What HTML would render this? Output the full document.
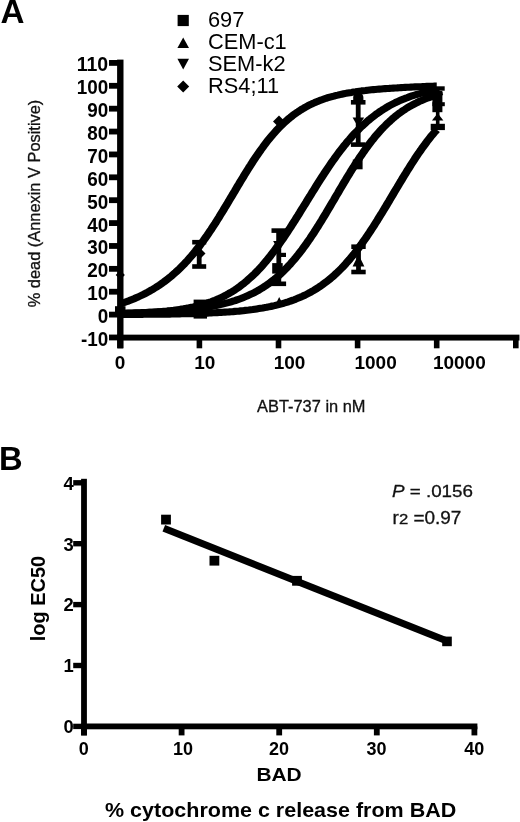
<!DOCTYPE html>
<html lang="en"><head><meta charset="utf-8"><title>Figure</title>
<style>
html,body{margin:0;padding:0;background:#fff}
body{width:520px;height:822px;overflow:hidden}
text{font-family:"Liberation Sans",sans-serif;fill:#000}
text.g{fill:#111;stroke:#111;stroke-width:0.3px}
</style></head><body>
<svg width="520" height="822" viewBox="0 0 520 822" style="display:block">
<rect width="520" height="822" fill="#fff"/>
<text x="0.5" y="23.1" font-size="33.2" font-weight="700" class="b">A</text>
<text x="-1.1" y="470.3" font-size="32.7" font-weight="700" class="b">B</text>
<rect x="177.6" y="14.9" width="11.2" height="11.2"/>
<polygon points="177.4,48 189.0,48 183.2,37.4"/>
<polygon points="177.4,58.8 189.0,58.8 183.2,69.5"/>
<polygon points="177.2,86.5 183.2,80.5 189.2,86.5 183.2,92.5"/>
<text x="208" y="27.2" font-size="21.8" class="r">697</text>
<text x="208" y="49.2" font-size="21.8" class="r">CEM-c1</text>
<text x="208" y="71.2" font-size="21.8" class="r">SEM-k2</text>
<text x="208" y="93.2" font-size="21.8" class="r">RS4;11</text>
<rect x="117.10" y="59.6" width="6.4" height="288.7"/>
<rect x="117.35" y="334.65" width="402.1" height="5.9"/>
<rect x="109" y="334.58" width="10" height="5.8"/>
<text x="108.2" y="345.9" font-size="20.4" font-weight="700" text-anchor="end" textLength="27.3" lengthAdjust="spacingAndGlyphs" class="b">-10</text>
<rect x="109" y="311.70" width="10" height="5.8"/>
<text x="108.2" y="323.0" font-size="20.4" font-weight="700" text-anchor="end" textLength="10.5" lengthAdjust="spacingAndGlyphs" class="b">0</text>
<rect x="109" y="288.82" width="10" height="5.8"/>
<text x="108.2" y="300.1" font-size="20.4" font-weight="700" text-anchor="end" textLength="21.0" lengthAdjust="spacingAndGlyphs" class="b">10</text>
<rect x="109" y="265.94" width="10" height="5.8"/>
<text x="108.2" y="277.2" font-size="20.4" font-weight="700" text-anchor="end" textLength="21.0" lengthAdjust="spacingAndGlyphs" class="b">20</text>
<rect x="109" y="243.06" width="10" height="5.8"/>
<text x="108.2" y="254.4" font-size="20.4" font-weight="700" text-anchor="end" textLength="21.0" lengthAdjust="spacingAndGlyphs" class="b">30</text>
<rect x="109" y="220.18" width="10" height="5.8"/>
<text x="108.2" y="231.5" font-size="20.4" font-weight="700" text-anchor="end" textLength="21.0" lengthAdjust="spacingAndGlyphs" class="b">40</text>
<rect x="109" y="197.30" width="10" height="5.8"/>
<text x="108.2" y="208.6" font-size="20.4" font-weight="700" text-anchor="end" textLength="21.0" lengthAdjust="spacingAndGlyphs" class="b">50</text>
<rect x="109" y="174.42" width="10" height="5.8"/>
<text x="108.2" y="185.7" font-size="20.4" font-weight="700" text-anchor="end" textLength="21.0" lengthAdjust="spacingAndGlyphs" class="b">60</text>
<rect x="109" y="151.54" width="10" height="5.8"/>
<text x="108.2" y="162.8" font-size="20.4" font-weight="700" text-anchor="end" textLength="21.0" lengthAdjust="spacingAndGlyphs" class="b">70</text>
<rect x="109" y="128.66" width="10" height="5.8"/>
<text x="108.2" y="140.0" font-size="20.4" font-weight="700" text-anchor="end" textLength="21.0" lengthAdjust="spacingAndGlyphs" class="b">80</text>
<rect x="109" y="105.78" width="10" height="5.8"/>
<text x="108.2" y="117.1" font-size="20.4" font-weight="700" text-anchor="end" textLength="21.0" lengthAdjust="spacingAndGlyphs" class="b">90</text>
<rect x="109" y="82.90" width="10" height="5.8"/>
<text x="108.2" y="94.2" font-size="20.4" font-weight="700" text-anchor="end" textLength="31.5" lengthAdjust="spacingAndGlyphs" class="b">100</text>
<rect x="109" y="60.02" width="10" height="5.8"/>
<text x="108.2" y="71.3" font-size="20.4" font-weight="700" text-anchor="end" textLength="31.5" lengthAdjust="spacingAndGlyphs" class="b">110</text>
<rect x="117.50" y="337.6" width="5.6" height="10.7"/>
<rect x="196.60" y="337.6" width="5.6" height="10.7"/>
<rect x="275.70" y="337.6" width="5.6" height="10.7"/>
<rect x="354.80" y="337.6" width="5.6" height="10.7"/>
<rect x="433.90" y="337.6" width="5.6" height="10.7"/>
<rect x="513.00" y="337.6" width="5.6" height="10.7"/>
<text x="120.1" y="368.7" font-size="19" font-weight="700" text-anchor="middle" class="b">0</text>
<text x="204.7" y="368.7" font-size="19" font-weight="700" text-anchor="middle" class="b">10</text>
<text x="289.6" y="368.7" font-size="19" font-weight="700" text-anchor="middle" class="b">100</text>
<text x="375.6" y="368.7" font-size="19" font-weight="700" text-anchor="middle" class="b">1000</text>
<text x="459.3" y="368.7" font-size="19" font-weight="700" text-anchor="middle" class="b">10000</text>
<text transform="translate(40.1,307.3) rotate(-90)" font-size="16.2" textLength="207.6" lengthAdjust="spacingAndGlyphs" class="r g">% dead (Annexin V Positive)</text>
<text x="257" y="412" font-size="16.2" textLength="108.5" lengthAdjust="spacingAndGlyphs" class="r g">ABT-737 in nM</text>
<g transform="scale(1.13,1)">
<path d="M106.5,314.5 L108.2,314.5 L110.0,314.5 L111.7,314.4 L113.5,314.4 L115.2,314.4 L117.0,314.4 L118.7,314.4 L120.5,314.4 L122.2,314.4 L124.0,314.4 L125.7,314.4 L127.5,314.3 L129.2,314.3 L131.0,314.3 L132.7,314.3 L134.5,314.3 L136.2,314.3 L138.0,314.2 L139.7,314.2 L141.5,314.2 L143.2,314.2 L145.0,314.1 L146.7,314.1 L148.5,314.1 L150.2,314.1 L152.0,314.0 L153.7,314.0 L155.5,314.0 L157.2,313.9 L159.0,313.9 L160.7,313.8 L162.5,313.8 L164.2,313.8 L166.0,313.7 L167.7,313.7 L169.5,313.6 L171.2,313.6 L173.0,313.5 L174.7,313.4 L176.5,313.4 L178.2,313.3 L180.0,313.2 L181.7,313.2 L183.5,313.1 L185.2,313.0 L187.0,312.9 L188.7,312.8 L190.5,312.7 L192.2,312.6 L194.0,312.5 L195.7,312.4 L197.5,312.3 L199.2,312.1 L201.0,312.0 L202.7,311.9 L204.5,311.7 L206.2,311.6 L208.0,311.4 L209.7,311.2 L211.5,311.1 L213.2,310.9 L215.0,310.7 L216.7,310.4 L218.5,310.2 L220.2,310.0 L222.0,309.7 L223.7,309.5 L225.5,309.2 L227.2,308.9 L229.0,308.6 L230.7,308.3 L232.5,308.0 L234.2,307.6 L236.0,307.3 L237.7,306.9 L239.5,306.5 L241.2,306.0 L243.0,305.6 L244.7,305.1 L246.5,304.6 L248.2,304.1 L250.0,303.6 L251.7,303.0 L253.5,302.4 L255.2,301.8 L257.0,301.1 L258.7,300.4 L260.5,299.7 L262.2,298.9 L264.0,298.1 L265.7,297.3 L267.5,296.4 L269.2,295.5 L271.0,294.5 L272.7,293.5 L274.5,292.4 L276.2,291.3 L278.0,290.2 L279.7,289.0 L281.5,287.7 L283.2,286.4 L285.0,285.0 L286.7,283.6 L288.5,282.1 L290.2,280.6 L292.0,279.0 L293.7,277.3 L295.5,275.6 L297.2,273.8 L299.0,271.9 L300.7,270.0 L302.5,268.0 L304.2,265.9 L306.0,263.7 L307.7,261.5 L309.5,259.2 L311.2,256.8 L313.0,254.4 L314.7,251.9 L316.5,249.3 L318.2,246.7 L320.0,244.0 L321.7,241.2 L323.5,238.4 L325.2,235.5 L327.0,232.5 L328.7,229.5 L330.5,226.5 L332.2,223.4 L334.0,220.2 L335.7,217.0 L337.5,213.8 L339.2,210.6 L341.0,207.3 L342.7,204.0 L344.5,200.7 L346.2,197.4 L348.0,194.0 L349.7,190.7 L351.5,187.4 L353.2,184.1 L355.0,180.8 L356.7,177.5 L358.5,174.3 L360.2,171.1 L362.0,167.9 L363.7,164.8 L365.5,161.7 L367.2,158.7 L369.0,155.7 L370.7,152.8 L372.5,150.0 L374.2,147.2 L376.0,144.5 L377.7,141.8 L379.5,139.2 L381.2,136.7 L383.0,134.3 L384.7,132.0 L386.5,129.7" fill="none" stroke="#000" stroke-width="7.1" stroke-linejoin="round"/>
<path d="M106.5,313.3 L108.2,313.2 L110.0,313.2 L111.7,313.1 L113.5,313.1 L115.2,313.0 L117.0,313.0 L118.7,312.9 L120.5,312.8 L122.2,312.8 L124.0,312.7 L125.7,312.6 L127.5,312.6 L129.2,312.5 L131.0,312.4 L132.7,312.3 L134.5,312.2 L136.2,312.1 L138.0,312.0 L139.7,311.9 L141.5,311.8 L143.2,311.7 L145.0,311.6 L146.7,311.5 L148.5,311.4 L150.2,311.2 L152.0,311.1 L153.7,310.9 L155.5,310.8 L157.2,310.6 L159.0,310.5 L160.7,310.3 L162.5,310.1 L164.2,309.9 L166.0,309.7 L167.7,309.5 L169.5,309.3 L171.2,309.1 L173.0,308.8 L174.7,308.6 L176.5,308.3 L178.2,308.0 L180.0,307.7 L181.7,307.4 L183.5,307.1 L185.2,306.8 L187.0,306.4 L188.7,306.1 L190.5,305.7 L192.2,305.3 L194.0,304.8 L195.7,304.4 L197.5,303.9 L199.2,303.4 L201.0,302.9 L202.7,302.4 L204.5,301.8 L206.2,301.2 L208.0,300.6 L209.7,299.9 L211.5,299.2 L213.2,298.5 L215.0,297.7 L216.7,296.9 L218.5,296.1 L220.2,295.2 L222.0,294.2 L223.7,293.3 L225.5,292.3 L227.2,291.2 L229.0,290.1 L230.7,288.9 L232.5,287.7 L234.2,286.4 L236.0,285.1 L237.7,283.7 L239.5,282.2 L241.2,280.7 L243.0,279.1 L244.7,277.5 L246.5,275.8 L248.2,274.0 L250.0,272.1 L251.7,270.2 L253.5,268.2 L255.2,266.1 L257.0,263.9 L258.7,261.7 L260.5,259.4 L262.2,257.0 L264.0,254.5 L265.7,252.0 L267.5,249.4 L269.2,246.7 L271.0,244.0 L272.7,241.1 L274.5,238.3 L276.2,235.3 L278.0,232.3 L279.7,229.2 L281.5,226.1 L283.2,222.9 L285.0,219.7 L286.7,216.5 L288.5,213.2 L290.2,209.9 L292.0,206.5 L293.7,203.2 L295.5,199.8 L297.2,196.4 L299.0,193.1 L300.7,189.7 L302.5,186.3 L304.2,183.0 L306.0,179.7 L307.7,176.4 L309.5,173.2 L311.2,170.0 L313.0,166.9 L314.7,163.8 L316.5,160.7 L318.2,157.7 L320.0,154.8 L321.7,152.0 L323.5,149.2 L325.2,146.5 L327.0,143.8 L328.7,141.2 L330.5,138.8 L332.2,136.3 L334.0,134.0 L335.7,131.8 L337.5,129.6 L339.2,127.5 L341.0,125.5 L342.7,123.5 L344.5,121.7 L346.2,119.9 L348.0,118.1 L349.7,116.5 L351.5,114.9 L353.2,113.4 L355.0,112.0 L356.7,110.6 L358.5,109.3 L360.2,108.0 L362.0,106.8 L363.7,105.7 L365.5,104.6 L367.2,103.6 L369.0,102.6 L370.7,101.6 L372.5,100.8 L374.2,99.9 L376.0,99.1 L377.7,98.3 L379.5,97.6 L381.2,96.9 L383.0,96.3 L384.7,95.7 L386.5,95.1" fill="none" stroke="#000" stroke-width="7.1" stroke-linejoin="round"/>
<path d="M106.5,313.7 L108.2,313.6 L110.0,313.6 L111.7,313.5 L113.5,313.4 L115.2,313.4 L117.0,313.3 L118.7,313.2 L120.5,313.1 L122.2,313.1 L124.0,313.0 L125.7,312.9 L127.5,312.8 L129.2,312.7 L131.0,312.6 L132.7,312.4 L134.5,312.3 L136.2,312.2 L138.0,312.0 L139.7,311.9 L141.5,311.7 L143.2,311.5 L145.0,311.3 L146.7,311.2 L148.5,310.9 L150.2,310.7 L152.0,310.5 L153.7,310.3 L155.5,310.0 L157.2,309.7 L159.0,309.4 L160.7,309.1 L162.5,308.8 L164.2,308.4 L166.0,308.1 L167.7,307.7 L169.5,307.3 L171.2,306.9 L173.0,306.4 L174.7,305.9 L176.5,305.4 L178.2,304.9 L180.0,304.3 L181.7,303.7 L183.5,303.1 L185.2,302.4 L187.0,301.7 L188.7,300.9 L190.5,300.2 L192.2,299.3 L194.0,298.5 L195.7,297.6 L197.5,296.6 L199.2,295.6 L201.0,294.5 L202.7,293.4 L204.5,292.3 L206.2,291.1 L208.0,289.8 L209.7,288.5 L211.5,287.1 L213.2,285.6 L215.0,284.1 L216.7,282.5 L218.5,280.8 L220.2,279.1 L222.0,277.3 L223.7,275.5 L225.5,273.6 L227.2,271.6 L229.0,269.5 L230.7,267.4 L232.5,265.2 L234.2,262.9 L236.0,260.5 L237.7,258.1 L239.5,255.6 L241.2,253.1 L243.0,250.4 L244.7,247.8 L246.5,245.0 L248.2,242.2 L250.0,239.4 L251.7,236.5 L253.5,233.5 L255.2,230.5 L257.0,227.5 L258.7,224.4 L260.5,221.3 L262.2,218.1 L264.0,215.0 L265.7,211.8 L267.5,208.6 L269.2,205.4 L271.0,202.2 L272.7,199.0 L274.5,195.8 L276.2,192.6 L278.0,189.4 L279.7,186.3 L281.5,183.1 L283.2,180.0 L285.0,176.9 L286.7,173.9 L288.5,170.9 L290.2,168.0 L292.0,165.0 L293.7,162.2 L295.5,159.4 L297.2,156.6 L299.0,153.9 L300.7,151.3 L302.5,148.7 L304.2,146.2 L306.0,143.8 L307.7,141.4 L309.5,139.1 L311.2,136.8 L313.0,134.6 L314.7,132.5 L316.5,130.5 L318.2,128.5 L320.0,126.5 L321.7,124.7 L323.5,122.9 L325.2,121.1 L327.0,119.5 L328.7,117.9 L330.5,116.3 L332.2,114.8 L334.0,113.4 L335.7,112.0 L337.5,110.7 L339.2,109.4 L341.0,108.2 L342.7,107.0 L344.5,105.8 L346.2,104.8 L348.0,103.7 L349.7,102.7 L351.5,101.8 L353.2,100.9 L355.0,100.0 L356.7,99.2 L358.5,98.4 L360.2,97.7 L362.0,96.9 L363.7,96.2 L365.5,95.6 L367.2,95.0 L369.0,94.4 L370.7,93.8 L372.5,93.3 L374.2,92.8 L376.0,92.3 L377.7,91.8 L379.5,91.4 L381.2,91.0 L383.0,90.6 L384.7,90.2 L386.5,89.8" fill="none" stroke="#000" stroke-width="7.1" stroke-linejoin="round"/>
<path d="M106.5,303.9 L108.2,303.2 L110.0,302.5 L111.7,301.8 L113.5,301.1 L115.2,300.3 L117.0,299.5 L118.7,298.7 L120.5,297.8 L122.2,297.0 L124.0,296.0 L125.7,295.1 L127.5,294.1 L129.2,293.1 L131.0,292.0 L132.7,290.9 L134.5,289.8 L136.2,288.6 L138.0,287.4 L139.7,286.1 L141.5,284.8 L143.2,283.4 L145.0,282.0 L146.7,280.5 L148.5,279.0 L150.2,277.4 L152.0,275.8 L153.7,274.1 L155.5,272.3 L157.2,270.5 L159.0,268.6 L160.7,266.7 L162.5,264.7 L164.2,262.6 L166.0,260.4 L167.7,258.2 L169.5,255.9 L171.2,253.6 L173.0,251.1 L174.7,248.6 L176.5,246.1 L178.2,243.4 L180.0,240.7 L181.7,238.0 L183.5,235.1 L185.2,232.2 L187.0,229.3 L188.7,226.3 L190.5,223.2 L192.2,220.1 L194.0,216.9 L195.7,213.7 L197.5,210.5 L199.2,207.2 L201.0,204.0 L202.7,200.6 L204.5,197.3 L206.2,194.0 L208.0,190.7 L209.7,187.3 L211.5,184.0 L213.2,180.7 L215.0,177.5 L216.7,174.2 L218.5,171.0 L220.2,167.9 L222.0,164.8 L223.7,161.7 L225.5,158.7 L227.2,155.8 L229.0,152.9 L230.7,150.1 L232.5,147.4 L234.2,144.7 L236.0,142.1 L237.7,139.6 L239.5,137.2 L241.2,134.9 L243.0,132.6 L244.7,130.4 L246.5,128.3 L248.2,126.3 L250.0,124.4 L251.7,122.5 L253.5,120.7 L255.2,119.0 L257.0,117.4 L258.7,115.8 L260.5,114.3 L262.2,112.9 L264.0,111.6 L265.7,110.3 L267.5,109.0 L269.2,107.9 L271.0,106.8 L272.7,105.7 L274.5,104.7 L276.2,103.8 L278.0,102.9 L279.7,102.0 L281.5,101.2 L283.2,100.4 L285.0,99.7 L286.7,99.0 L288.5,98.3 L290.2,97.7 L292.0,97.1 L293.7,96.6 L295.5,96.1 L297.2,95.5 L299.0,95.1 L300.7,94.6 L302.5,94.2 L304.2,93.8 L306.0,93.4 L307.7,93.0 L309.5,92.7 L311.2,92.4 L313.0,92.0 L314.7,91.8 L316.5,91.5 L318.2,91.2 L320.0,90.9 L321.7,90.7 L323.5,90.5 L325.2,90.2 L327.0,90.0 L328.7,89.8 L330.5,89.6 L332.2,89.5 L334.0,89.3 L335.7,89.1 L337.5,89.0 L339.2,88.8 L341.0,88.6 L342.7,88.5 L344.5,88.4 L346.2,88.2 L348.0,88.1 L349.7,88.0 L351.5,87.9 L353.2,87.7 L355.0,87.6 L356.7,87.5 L358.5,87.4 L360.2,87.3 L362.0,87.2 L363.7,87.1 L365.5,87.0 L367.2,86.9 L369.0,86.8 L370.7,86.8 L372.5,86.7 L374.2,86.6 L376.0,86.5 L377.7,86.4 L379.5,86.4 L381.2,86.3 L383.0,86.2 L384.7,86.1 L386.5,86.1" fill="none" stroke="#000" stroke-width="7.1" stroke-linejoin="round"/>
</g>
<polygon points="115.7,275.0 120.3,270.4 124.9,275.0 120.3,279.6"/>
<rect x="115.0" y="306.2" width="10.5" height="10.5"/>
<rect x="196.8" y="242.2" width="4.8" height="24.3"/>
<rect x="192.2" y="239.9" width="14" height="4.6"/>
<rect x="192.2" y="264.2" width="14" height="4.6"/>
<polygon points="194.5,253.5 200.0,248.0 205.5,253.5 200.0,259.0"/>
<rect x="193.6" y="299.6" width="13.4" height="19"/>
<rect x="276.4" y="230.6" width="4.8" height="53.2"/>
<rect x="271.5" y="228.3" width="14.6" height="4.6"/>
<rect x="271.5" y="281.5" width="14.6" height="4.6"/>
<rect x="278.8" y="252.8" width="7.2" height="4.2"/>
<rect x="272.2" y="263.1" width="10.5" height="10.5"/>
<polygon points="273.1,241.0 284.6,241.0 278.8,251.0"/>
<rect x="276.6" y="232" width="6.2" height="11"/>
<polygon points="274.2,307.0 284.2,307.0 279.2,297.0"/>
<polygon points="273.0,121.5 279.0,115.5 285.0,121.5 279.0,127.5"/>
<rect x="355.8" y="102.3" width="4.8" height="42.3"/>
<rect x="350.9" y="100.0" width="14.6" height="4.6"/>
<rect x="350.9" y="142.3" width="14.6" height="4.6"/>
<polygon points="352.6,117.5 364.1,117.5 358.3,127.5"/>
<path d="M353.2,100 L353.2,97.5 Q353.2,94 356.5,93 L360,93 Q363.4,94 363.4,97.5 L363.4,100 Z"/>
<rect x="352.8" y="159.5" width="9.8" height="9.8"/>
<rect x="356.1" y="246.7" width="4.8" height="25.3"/>
<rect x="351.3" y="244.4" width="14.4" height="4.6"/>
<rect x="351.3" y="269.7" width="14.4" height="4.6"/>
<polygon points="352.6,266.5 364.4,266.5 358.5,254.5"/>
<rect x="435.9" y="88" width="3.6" height="39"/>
<rect x="430.7" y="86.3" width="14" height="4.4"/>
<polygon points="432.2,94.5 437.7,89.0 443.2,94.5 437.7,100.0"/>
<polygon points="432.2,92.5 443.2,92.5 437.7,101.5"/>
<rect x="432.4" y="102.2" width="12.4" height="4"/>
<rect x="432.4" y="91" width="10" height="21.2"/>
<polygon points="431.9,120.5 443.4,120.5 437.7,113.3"/>
<rect x="430.7" y="123.8" width="14.2" height="6.3"/>
<rect x="81.10" y="478.8" width="5.8" height="256.6"/>
<rect x="81.10" y="723.50" width="396.3" height="5.8"/>
<rect x="73.2" y="723.70" width="10" height="5.4"/>
<text x="73.8" y="733.2" font-size="18.4" font-weight="700" text-anchor="end" class="b">0</text>
<rect x="73.2" y="662.80" width="10" height="5.4"/>
<text x="73.8" y="672.3" font-size="18.4" font-weight="700" text-anchor="end" class="b">1</text>
<rect x="73.2" y="601.90" width="10" height="5.4"/>
<text x="73.8" y="611.4" font-size="18.4" font-weight="700" text-anchor="end" class="b">2</text>
<rect x="73.2" y="541.00" width="10" height="5.4"/>
<text x="73.8" y="550.5" font-size="18.4" font-weight="700" text-anchor="end" class="b">3</text>
<rect x="73.2" y="480.10" width="10" height="5.4"/>
<text x="73.8" y="489.6" font-size="18.4" font-weight="700" text-anchor="end" class="b">4</text>
<rect x="81.10" y="726.4" width="5.8" height="9.0"/>
<text x="83.8" y="755.2" font-size="18" font-weight="700" text-anchor="middle" class="b">0</text>
<rect x="178.70" y="726.4" width="5.8" height="9.0"/>
<text x="183.0" y="755.2" font-size="18" font-weight="700" text-anchor="middle" class="b">10</text>
<rect x="276.30" y="726.4" width="5.8" height="9.0"/>
<text x="279.0" y="755.2" font-size="18" font-weight="700" text-anchor="middle" class="b">20</text>
<rect x="373.90" y="726.4" width="5.8" height="9.0"/>
<text x="376.6" y="755.2" font-size="18" font-weight="700" text-anchor="middle" class="b">30</text>
<rect x="471.50" y="726.4" width="5.8" height="9.0"/>
<text x="474.2" y="755.2" font-size="18" font-weight="700" text-anchor="middle" class="b">40</text>
<text transform="translate(44.5,641.3) rotate(-90)" font-size="20" font-weight="700" textLength="85.4" lengthAdjust="spacingAndGlyphs" class="b">log EC50</text>
<text x="256.4" y="780.6" font-size="18.7" font-weight="700" textLength="45.3" lengthAdjust="spacingAndGlyphs" class="b">BAD</text>
<text x="105" y="816.5" font-size="19.7" font-weight="700" textLength="351.3" lengthAdjust="spacingAndGlyphs" class="b">% cytochrome c release from BAD</text>
<rect x="161.1" y="514.7" width="9.8" height="9.8"/>
<rect x="209.5" y="555.8" width="9.8" height="9.8"/>
<rect x="292.1" y="575.9" width="9.8" height="9.8"/>
<rect x="442.2" y="636.6" width="9.6" height="9.6"/>
<line x1="163.8" y1="528.3" x2="449.5" y2="642" stroke="#000" stroke-width="7"/>
<text x="392" y="497.1" font-size="17.4" textLength="81" lengthAdjust="spacingAndGlyphs" class="r g"><tspan font-style="italic">P</tspan> = .0156</text>
<text x="392.6" y="523.5" font-size="17.6" textLength="68.8" lengthAdjust="spacingAndGlyphs" class="r g">r<tspan font-size="15.5">2</tspan> =0.97</text>
</svg>
</body></html>
